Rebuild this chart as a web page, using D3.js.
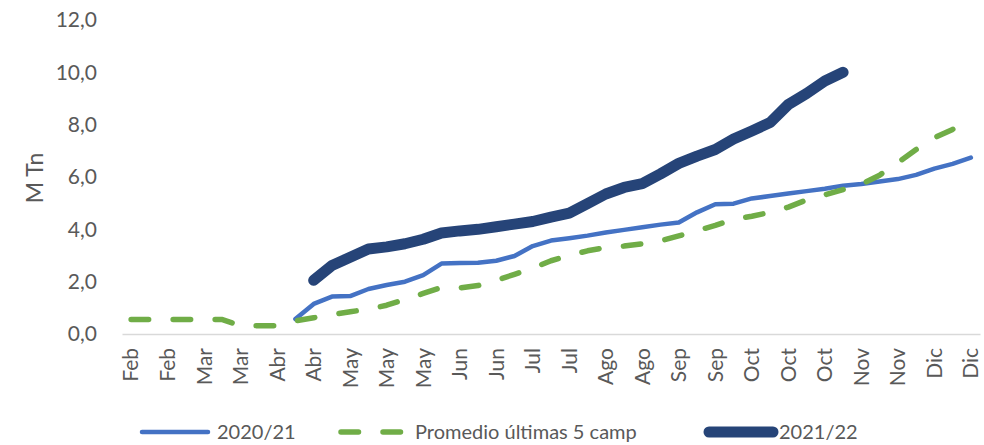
<!DOCTYPE html>
<html>
<head>
<meta charset="utf-8">
<script src="https://cdn.jsdelivr.net/npm/d3@7"></script>
<style>
  body { margin: 0; background: #fff; }
  text { font-family: Lato, "Open Sans", sans-serif; fill: #595959; }
</style>
</head>
<body>
<div id="chart"></div>
<script>
// weekly categories (only every other one is labelled)
var weeks = ["Feb","Feb","Feb","Feb","Mar","Mar","Mar","Mar","Abr","Abr",
             "Abr","Abr","May","May","May","May","May","Jun","Jun","Jun",
             "Jun","Jun","Jul","Jul","Jul","Jul","Ago","Ago","Ago","Ago",
             "Sep","Sep","Sep","Sep","Oct","Oct","Oct","Oct","Oct","Nov",
             "Nov","Nov","Nov","Dic","Dic","Dic","Dic"];
var yTicks = [0, 2, 4, 6, 8, 10, 12];

// 2020/21 starts at week 9
var serie2021 = [null,null,null,null,null,null,null,null,null,
  0.57, 1.15, 1.43, 1.45, 1.72, 1.87, 2.0, 2.25, 2.69, 2.71, 2.72,
  2.8, 2.98, 3.36, 3.57, 3.66, 3.76, 3.88, 3.98, 4.08, 4.18,
  4.26, 4.65, 4.96, 4.98, 5.18, 5.27, 5.37, 5.46, 5.55, 5.67,
  5.73, 5.83, 5.92, 6.08, 6.32, 6.5, 6.74];

var promedio = [0.55, 0.55, 0.55, 0.55, 0.55, 0.55, 0.32, 0.32, 0.32, 0.5,
  0.62, 0.74, 0.85, 0.95, 1.1, 1.32, 1.55, 1.78, 1.76, 1.85,
  2.05, 2.28, 2.52, 2.8, 3.0, 3.18, 3.3, 3.36, 3.45, 3.56,
  3.75, 3.95, 4.15, 4.38, 4.5, 4.65, 4.85, 5.12, 5.32, 5.52,
  5.72, 6.07, 6.55, 7.05, 7.5, 7.82, 8.1];

// 2021/22 from week 10 to 39
var serie2122 = [null,null,null,null,null,null,null,null,null,null,
  2.05, 2.62, 2.93, 3.25, 3.33, 3.45, 3.62, 3.86, 3.94, 4.0,
  4.1, 4.2, 4.3, 4.47, 4.62, 4.98, 5.35, 5.6, 5.75, 6.12,
  6.52, 6.8, 7.05, 7.45, 7.76, 8.08, 8.77, 9.19, 9.67, 10.0,
  null,null,null,null,null,null,null];

var width = 984, height = 445;
var margin = { top: 20, right: 4, bottom: 111, left: 122 };

var svg = d3.select("#chart").append("svg")
    .attr("width", width)
    .attr("height", height);

var x = d3.scaleBand()
    .domain(d3.range(weeks.length))
    .range([margin.left, width - margin.right])
    .paddingInner(0).paddingOuter(0);

var y = d3.scaleLinear()
    .domain([0, 12])
    .range([height - margin.bottom, margin.top]);

function cx(i) { return x(i) + x.bandwidth() / 2; }

// y axis (labels only)
var fmt = d3.format(".1f");
var yAxis = svg.append("g")
    .attr("transform", "translate(" + (margin.left - 22) + ",0)")
    .call(d3.axisLeft(y).tickValues(yTicks).tickSize(0)
        .tickFormat(function (d) { return fmt(d).replace(".", ","); }));
yAxis.select(".domain").remove();
yAxis.selectAll("text")
    .style("font-size", "21px")
    .style("fill", "#595959")
    .attr("font-family", null);

// x axis
var xAxis = svg.append("g")
    .attr("transform", "translate(0," + y(0) + ")")
    .call(d3.axisBottom(x)
        .tickValues(d3.range(0, weeks.length, 2))
        .tickSize(0)
        .tickFormat(function (i) { return weeks[i]; }));
xAxis.select(".domain").attr("stroke", "#d9d9d9").attr("stroke-width", 1.5);
xAxis.selectAll("text")
    .style("font-size", "21px")
    .style("fill", "#595959")
    .attr("font-family", null)
    .style("text-anchor", "end")
    .attr("transform", "rotate(-90)")
    .attr("x", -14)
    .attr("y", 0)
    .attr("dy", "0.35em");

// y label
svg.append("text")
    .attr("transform", "translate(43,178) rotate(-90)")
    .style("text-anchor", "middle")
    .style("font-size", "23px")
    .text("M Tn");

var line = d3.line()
    .defined(function (d) { return d != null; })
    .x(function (d, i) { return cx(i); })
    .y(function (d) { return y(d); });

svg.append("path").datum(serie2021)
    .attr("fill", "none").attr("stroke", "#4472c4").attr("stroke-width", 4.5)
    .attr("stroke-linejoin", "round").attr("stroke-linecap", "round")
    .attr("d", line);

svg.append("path").datum(promedio)
    .attr("fill", "none").attr("stroke", "#70ad47").attr("stroke-width", 5.5)
    .attr("stroke-dasharray", "17.5,24.5")
    .attr("stroke-linejoin", "round").attr("stroke-linecap", "round")
    .attr("d", line);

svg.append("path").datum(serie2122)
    .attr("fill", "none").attr("stroke", "#264478").attr("stroke-width", 11)
    .attr("stroke-linejoin", "round").attr("stroke-linecap", "round")
    .attr("d", line);

// legend
var legend = [
    { name: "2020/21", color: "#4472c4", w: 4.5, dash: null, x1: 142, x2: 208, tx: 217 },
    { name: "Promedio últimas 5 camp", color: "#70ad47", w: 5.5, dash: "17.5,24.5", x1: 341, x2: 401, tx: 415 },
    { name: "2021/22", color: "#264478", w: 11, dash: null, x1: 709, x2: 773, tx: 779 }
];
var ly = 432;
var lg = svg.append("g");
legend.forEach(function (d) {
    lg.append("line")
        .attr("x1", d.x1).attr("x2", d.x2).attr("y1", ly).attr("y2", ly)
        .attr("stroke", d.color).attr("stroke-width", d.w)
        .attr("stroke-linecap", "round")
        .attr("stroke-dasharray", d.dash);
    lg.append("text")
        .attr("x", d.tx).attr("y", ly).attr("dy", "0.35em")
        .style("font-size", "20px")
        .text(d.name);
});
</script>
</body>
</html>
